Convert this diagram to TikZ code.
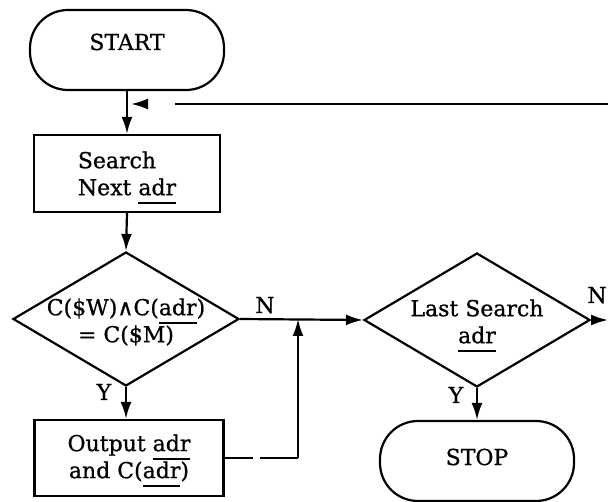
\documentclass[tikz,border=0pt]{standalone}
\usepackage{fontspec}
\setmainfont{DejaVu Serif}[FakeBold=0.8]
\newfontfamily\symf{DejaVu Sans}[FakeBold=0.8]
\usetikzlibrary{arrows.meta,shapes.geometric}
\newcommand\ulx[1]{\leavevmode\setbox0=\hbox{#1}\rlap{\smash{\vrule width\wd0 height -7pt depth 9pt}}\box0}
\newcommand\dtext[1]{\makebox[0pt]{\smash{\raisebox{-9.5pt}{\begin{tabular}{@{}c@{}}#1\end{tabular}}}}}
\begin{document}
\begin{tikzpicture}[x=1pt,y=-1pt,
  line width=2.2pt,
  every node/.style={font=\fontsize{22}{27}\selectfont},
  term/.style={draw, rectangle, rounded corners=38pt, minimum width=194pt, minimum height=80pt, inner sep=0pt},
  proc/.style={draw, rectangle, inner sep=0pt},
  dec/.style={draw, diamond, inner sep=0pt, minimum width=226pt, minimum height=134pt},
  arr/.style={-{Latex[length=17pt,width=11pt]}},
  lbl/.style={inner sep=0pt, anchor=base}
]
\useasboundingbox (0,0) rectangle (608,502);

% nodes
\node[term, text height=12pt, text depth=12pt] (start) at (127,50) {START};
\node[proc, minimum width=186pt, minimum height=77pt, align=left] (search) at (127,173.5) {Search\\Next \ulx{adr}};
\node[dec] (d1) at (126,319) {\dtext{C(\$W){\symf ∧}C(\ulx{adr})\\= C(\$M)}};
\node[proc, minimum width=189pt, minimum height=76pt, align=center] (out) at (129,458) {Output \ulx{adr}\\and C(\ulx{adr})};
\node[dec] (d2) at (477,320) {\dtext{Last Search\\\ulx{adr}}};
\node[term, text height=16pt, text depth=8pt] (stop) at (477,461) {STOP};

% labels
\node[lbl] (y1) at (104,400) {Y};
\node[lbl] (n1) at (265,313) {N};
\node[lbl] (y2) at (456,403) {Y};
\node[lbl] (n2) at (597,303) {N};

% coordinates
\coordinate (fb) at (127,104);
\coordinate (fbr) at (608,104);
\coordinate (jn) at (298,319);
\coordinate (jo) at (298,458);
\coordinate (ex) at (608,320);

% connectors
\draw[arr] (start.south) -- (search.north);
\draw[arr, shorten >=4pt, dash pattern=on 433pt off 60pt] (fbr) -- (fb);
\draw[arr] (search.south) -- (d1.north);
\draw[arr] (d1.south) -- (d1.south |- out.north);
\draw[arr] (d1.east) -- (d2.west);
\draw[dash pattern=on 28pt off 7pt on 200pt] (out.east) -- (jo);
\draw[arr] (jo) -- (jn);
\draw[arr] (d2.south) -- (stop.north);
\draw[arr] (d2.east) -- (ex);
\end{tikzpicture}
\end{document}
